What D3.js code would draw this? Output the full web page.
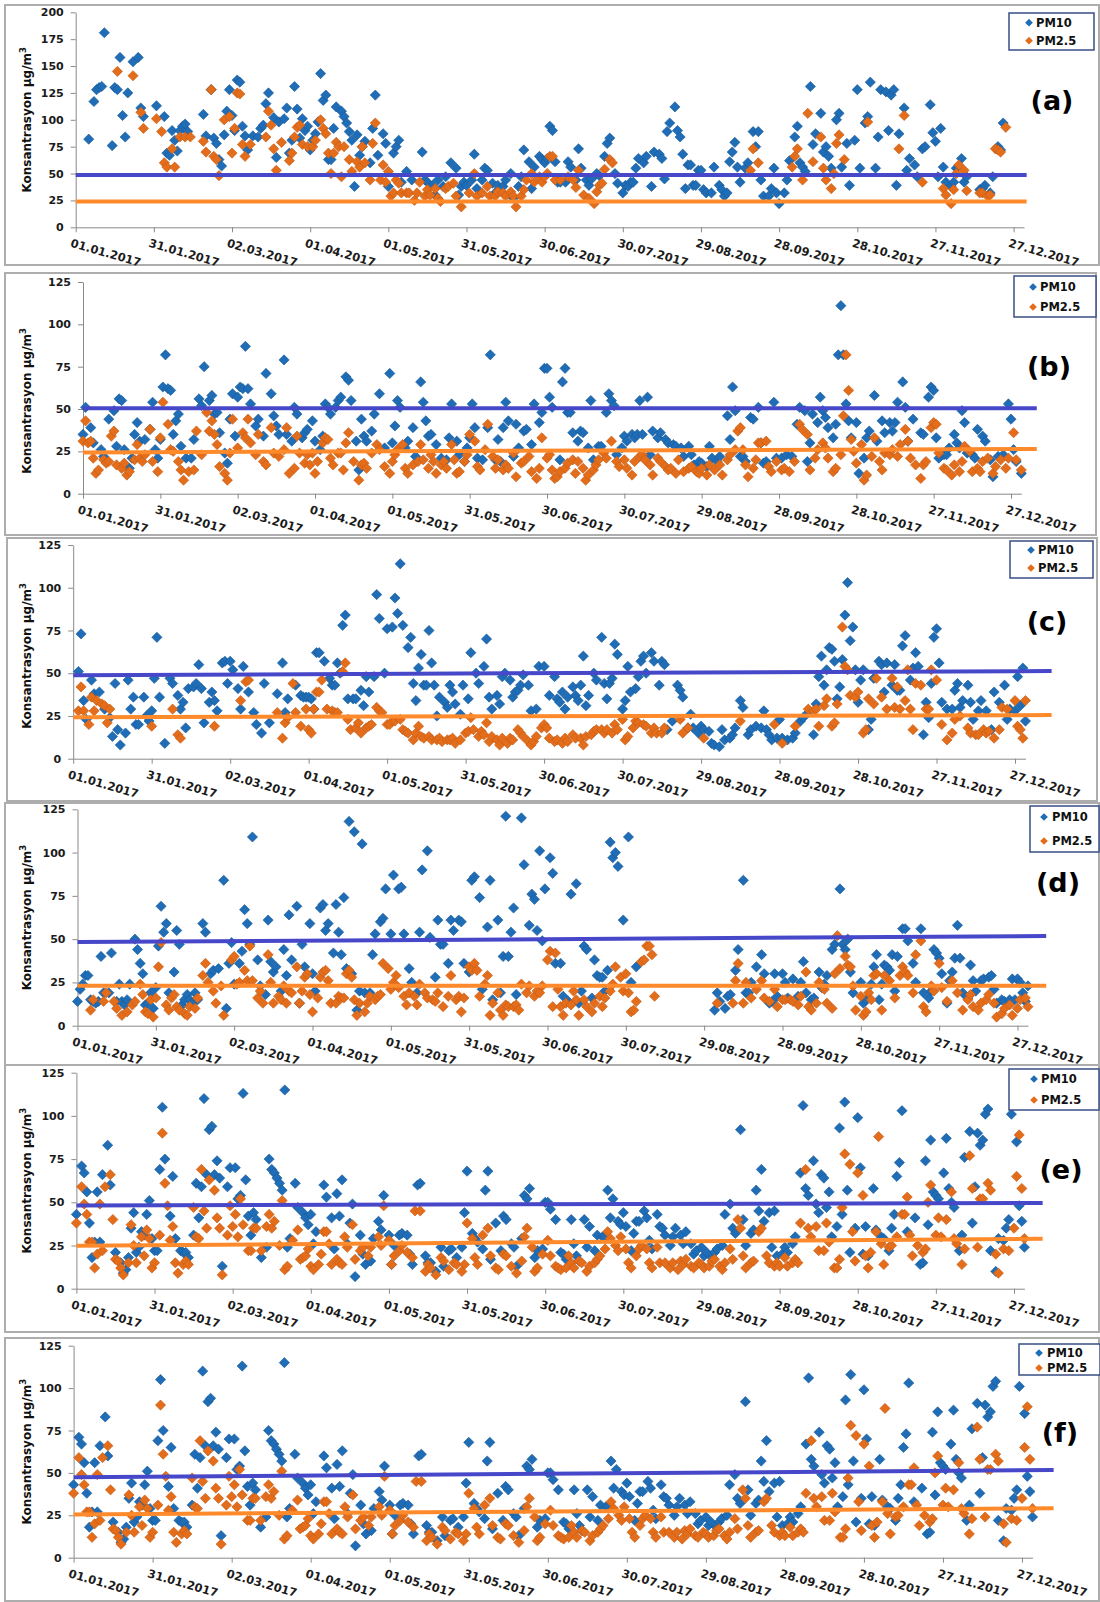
<!DOCTYPE html>
<html>
<head>
<meta charset='utf-8'>
<title>PM10 / PM2.5 2017</title>
<script src='https://d3js.org/d3.v7.min.js'></script>
<style>
body { margin: 0; background: #fff; }
svg text { font-family: 'DejaVu Sans', Verdana, sans-serif; font-weight: bold; }
</style>
</head>
<body>
<div id='chart'></div>
<script>

// x axis: day of year 2017, one label every 30 days
var dateLabels = ['01.01.2017','31.01.2017','02.03.2017','01.04.2017','01.05.2017','31.05.2017',
    '30.06.2017','30.07.2017','29.08.2017','28.09.2017','28.10.2017','27.11.2017','27.12.2017'];
var tickDays = [0,30,60,90,120,150,180,210,240,270,300,330,360];
var panelLetters = ['(a)','(b)','(c)','(d)','(e)','(f)'];
var yMax = [200,125,125,125,125,125];

// trend / limit lines, value at start and at end
var linePM10 = [[48.7,48.7],[50.4,50.4],[48.8,51.3],[48.3,51.8],[48.2,49.6],[47.4,51.7]];
var linePM25 = [[23.9,23.9],[24.4,26.4],[24.3,25.5],[23.1,23.1],[24.9,28.9],[25.5,29.1]];
var lineEndDay = [365,370,374,371,371,372];

// [day, value]
var pm10A = [[5,82],[7,117],[8,128],[9,130],[10,131],[11,181],[14,76],[15,130],[16,128],[17,158],[18,104],[19,84],[20,125],[22,154],[24,158],[25,111],[26,103],[31,113],[34,103],[35,69],[36,67],[37,90],[38,81],[39,71],[40,90],[41,94],[42,96],[43,89],[49,105],[50,85],[52,128],[53,83],[54,78],[55,63],[56,57],[57,86],[58,108],[59,128],[60,104],[61,90],[62,137],[63,135],[64,94],[65,85],[66,72],[68,85],[70,84],[71,92],[72,95],[73,115],[74,125],[76,102],[77,65],[78,98],[80,101],[81,111],[82,69],[83,81],[84,131],[85,110],[86,83],[87,101],[88,90],[89,94],[90,72],[91,81],[92,87],[93,98],[94,143],[95,118],[96,123],[97,63],[98,63],[99,92],[100,112],[102,108],[103,103],[104,97],[105,89],[106,81],[107,38],[108,86],[109,67],[110,75],[111,80],[113,60],[114,92],[115,123],[116,67],[118,87],[119,78],[120,38],[122,69],[123,75],[124,81],[125,42],[127,52],[129,44],[133,70],[134,44],[135,42],[137,39],[138,30],[139,44],[141,38],[142,47],[144,60],[146,55],[147,30],[148,38],[149,42],[150,39],[152,44],[153,68],[154,36],[156,44],[157,55],[158,53],[160,41],[161,32],[162,39],[164,38],[165,44],[167,50],[168,27],[170,38],[171,47],[172,72],[174,61],[175,36],[176,56],[178,66],[179,63],[180,60],[181,64],[182,94],[183,90],[184,61],[185,42],[186,42],[188,42],[189,61],[190,56],[192,44],[193,73],[194,55],[196,44],[197,39],[198,45],[200,50],[201,48],[203,66],[204,78],[205,83],[207,50],[208,41],[210,32],[211,39],[212,38],[213,42],[214,42],[215,55],[216,64],[218,60],[219,66],[221,38],[222,70],[224,68],[225,64],[226,45],[227,89],[228,97],[230,112],[231,90],[232,84],[233,68],[234,36],[235,58],[236,58],[237,39],[238,39],[239,53],[240,53],[241,35],[242,32],[244,32],[245,56],[247,39],[248,35],[249,29],[250,32],[251,61],[252,70],[253,79],[254,56],[255,42],[257,55],[258,60],[260,89],[261,75],[262,89],[263,44],[264,29],[266,29],[267,36],[268,55],[269,32],[270,22],[272,32],[273,44],[274,62],[276,84],[277,94],[278,60],[279,56],[280,52],[282,131],[283,77],[284,87],[286,106],[287,70],[288,75],[289,66],[290,55],[292,100],[293,106],[294,56],[296,78],[297,39],[299,81],[300,128],[301,55],[303,97],[304,103],[305,135],[307,55],[308,84],[309,128],[311,126],[312,90],[313,123],[314,128],[315,39],[316,87],[318,111],[319,53],[320,64],[322,58],[323,47],[325,73],[326,75],[328,114],[329,88],[330,80],[331,47],[332,92],[333,56],[334,42],[336,38],[337,42],[338,55],[340,64],[341,42],[342,47],[347,35],[348,36],[349,39],[351,32],[352,47],[354,75],[355,72],[356,97]];
var pm25A = [[16,145],[22,141],[25,107],[26,92],[31,101],[33,89],[34,60],[35,56],[37,73],[38,56],[40,84],[42,84],[44,84],[49,80],[50,70],[52,128],[53,66],[54,63],[55,48],[57,100],[59,103],[60,69],[61,92],[62,125],[63,124],[64,77],[65,66],[67,77],[73,84],[74,108],[75,95],[76,73],[77,53],[79,79],[82,62],[83,69],[84,84],[85,93],[86,95],[87,77],[89,75],[91,75],[92,81],[94,100],[95,92],[96,87],[97,69],[98,50],[99,69],[100,79],[101,75],[102,47],[103,75],[105,63],[106,52],[108,61],[109,56],[110,75],[111,60],[113,44],[114,78],[115,97],[117,44],[118,58],[119,42],[120,52],[121,29],[122,32],[123,44],[124,41],[125,32],[127,32],[128,32],[130,25],[131,32],[132,42],[134,29],[135,35],[136,30],[138,36],[139,27],[140,24],[142,36],[143,38],[145,41],[146,29],[148,19],[151,32],[153,50],[154,29],[156,32],[158,38],[159,29],[161,29],[162,33],[164,32],[165,29],[167,33],[168,29],[169,19],[171,29],[172,35],[173,44],[175,50],[176,42],[178,47],[179,42],[180,47],[181,50],[182,66],[183,66],[184,44],[186,44],[189,47],[191,44],[192,37],[193,53],[195,30],[197,27],[199,22],[200,33],[201,39],[202,41],[203,54],[205,63],[206,60],[259,53],[260,73],[262,60],[275,56],[276,66],[277,73],[279,44],[281,106],[283,61],[286,84],[287,55],[288,44],[290,36],[291,50],[292,78],[293,86],[295,63],[304,98],[316,73],[318,104],[325,42],[333,36],[334,30],[336,22],[337,35],[338,50],[339,58],[341,53],[342,34],[347,32],[348,32],[350,29],[351,30],[353,73],[354,72],[355,70],[357,93]];

var pm10B = [[0,35],[1,51],[3,39],[4,30],[7,26],[8,22],[10,44],[12,49],[13,28],[14,56],[15,55],[16,26],[17,16],[18,15],[19,21],[20,35],[21,42],[22,31],[24,32],[26,38],[27,54],[28,26],[29,21],[30,32],[31,63],[32,82],[33,62],[34,61],[35,35],[36,43],[37,47],[38,28],[40,21],[42,21],[43,32],[45,56],[46,52],[47,75],[49,55],[50,58],[51,47],[52,48],[53,36],[55,24],[56,18],[57,44],[58,59],[59,34],[60,57],[61,63],[62,62],[63,87],[64,62],[65,53],[67,40],[68,44],[70,34],[71,71],[73,59],[74,46],[75,40],[76,35],[78,79],[79,35],[81,31],[82,51],[83,47],[85,33],[86,36],[87,38],[89,43],[90,31],[92,26],[93,34],[94,53],[95,51],[96,47],[98,51],[99,55],[100,57],[102,69],[103,67],[104,55],[106,31],[107,14],[108,44],[109,34],[110,31],[112,37],[113,47],[115,59],[117,27],[119,71],[120,30],[121,40],[122,55],[123,51],[125,27],[126,31],[128,39],[129,22],[131,66],[132,54],[133,43],[134,34],[135,35],[137,29],[139,21],[141,20],[142,33],[143,53],[145,31],[146,23],[148,19],[149,27],[150,33],[151,53],[152,39],[153,21],[155,20],[157,39],[158,82],[160,20],[161,32],[162,19],[163,39],[164,54],[165,43],[167,22],[168,41],[169,27],[171,37],[172,38],[174,29],[175,53],[177,42],[178,48],[179,74],[180,74],[181,57],[182,51],[185,20],[186,66],[187,74],[188,48],[189,48],[190,36],[192,31],[193,37],[194,36],[196,27],[197,55],[198,20],[200,28],[201,28],[203,48],[204,59],[205,55],[206,52],[207,23],[209,27],[210,34],[211,31],[213,35],[214,33],[215,35],[216,55],[217,35],[219,57],[220,23],[221,37],[223,33],[224,36],[226,32],[227,30],[229,29],[230,28],[232,27],[233,22],[235,28],[236,23],[237,17],[239,19],[240,18],[242,16],[243,28],[244,21],[246,19],[247,22],[250,46],[251,32],[252,63],[253,49],[255,22],[256,22],[257,19],[259,45],[260,44],[262,51],[263,30],[264,18],[265,19],[268,54],[269,21],[271,21],[273,23],[275,22],[277,41],[278,51],[280,49],[281,19],[282,30],[283,47],[285,42],[286,57],[287,49],[288,45],[289,39],[291,33],[292,41],[293,82],[294,111],[295,82],[296,53],[297,43],[298,33],[300,42],[301,12],[303,21],[304,33],[305,37],[307,58],[308,31],[310,43],[311,36],[313,42],[314,37],[315,42],[316,54],[318,66],[319,51],[320,31],[322,44],[325,36],[326,35],[328,57],[329,63],[330,61],[331,33],[332,21],[334,23],[335,23],[336,27],[338,35],[339,30],[340,27],[341,49],[342,42],[343,24],[345,23],[346,21],[347,38],[349,34],[350,31],[352,20],[353,10],[355,22],[357,23],[359,53],[360,44],[361,26],[362,19],[364,12]];
var pm25B = [[0,31],[1,43],[2,30],[3,31],[4,21],[5,12],[6,14],[8,20],[9,18],[10,19],[11,34],[12,37],[13,17],[15,15],[16,18],[17,11],[18,13],[20,20],[21,29],[22,21],[23,19],[24,23],[26,38],[27,19],[29,13],[30,33],[31,54],[33,41],[34,26],[35,25],[37,19],[38,14],[39,8],[41,13],[43,14],[44,37],[46,23],[48,48],[49,37],[50,43],[51,35],[52,29],[53,16],[55,12],[56,8],[57,24],[58,44],[60,27],[62,36],[63,33],[64,44],[65,30],[67,23],[68,35],[70,19],[71,17],[73,39],[74,24],[76,22],[78,26],[79,39],[80,12],[82,15],[83,34],[84,24],[86,18],[87,23],[88,17],[89,24],[90,12],[91,19],[93,30],[94,33],[95,32],[96,21],[97,17],[99,24],[100,24],[101,14],[102,30],[103,36],[105,19],[107,8],[108,17],[109,18],[110,15],[112,24],[114,29],[115,26],[117,16],[119,12],[120,19],[121,23],[122,26],[124,29],[125,15],[126,12],[128,17],[130,19],[131,29],[132,20],[134,15],[135,23],[136,19],[137,12],[139,17],[140,19],[141,15],[143,29],[144,20],[145,12],[146,13],[148,19],[149,23],[150,35],[152,31],[153,16],[154,14],[156,26],[157,41],[159,22],[160,15],[161,20],[163,14],[164,17],[165,15],[167,24],[168,10],[170,18],[171,19],[173,22],[174,13],[176,9],[177,15],[178,33],[180,21],[181,23],[182,14],[183,9],[184,10],[185,13],[187,15],[188,18],[190,20],[191,12],[192,19],[194,15],[195,8],[196,11],[198,14],[199,17],[200,20],[202,24],[203,21],[205,31],[207,19],[208,16],[210,20],[211,15],[213,11],[214,19],[216,22],[217,23],[218,20],[220,17],[221,11],[223,21],[224,19],[226,16],[227,14],[228,15],[230,12],[231,20],[233,13],[235,15],[236,16],[238,13],[239,12],[240,15],[242,11],[243,17],[245,14],[247,17],[248,11],[250,20],[251,23],[253,26],[254,37],[255,39],[256,26],[257,17],[258,10],[260,15],[261,20],[262,30],[263,30],[265,31],[266,16],[267,13],[269,19],[271,14],[272,15],[274,13],[276,19],[278,41],[279,38],[281,35],[282,14],[284,21],[285,26],[287,30],[288,27],[289,21],[291,13],[292,15],[294,23],[295,46],[296,82],[297,61],[298,32],[299,25],[300,18],[302,29],[303,8],[304,11],[306,22],[307,33],[309,19],[310,14],[311,24],[313,23],[314,26],[316,22],[317,29],[319,38],[320,31],[321,21],[323,17],[325,9],[326,17],[327,19],[329,39],[330,42],[331,41],[332,24],[334,15],[335,14],[337,11],[338,17],[340,13],[341,19],[342,28],[344,25],[345,13],[347,15],[348,13],[349,19],[351,21],[353,12],[354,16],[356,20],[358,15],[359,21],[361,36],[362,20],[364,14]];

var pm10C = [[2,51],[3,73],[4,34],[5,23],[7,46],[8,38],[10,39],[12,29],[14,24],[15,13],[16,44],[17,17],[18,8],[20,15],[21,46],[22,29],[23,36],[24,20],[25,20],[27,36],[28,25],[29,22],[30,28],[31,47],[32,71],[33,36],[35,9],[37,47],[38,44],[40,37],[41,29],[42,33],[43,18],[44,41],[46,42],[47,44],[48,55],[49,41],[50,21],[52,33],[53,39],[54,34],[55,28],[57,56],[58,57],[59,44],[60,57],[61,52],[63,41],[64,29],[65,54],[67,39],[69,27],[70,20],[72,15],[73,44],[75,21],[78,38],[80,56],[81,27],[82,35],[85,43],[87,37],[88,36],[89,36],[90,36],[91,35],[92,29],[93,62],[94,62],[96,57],[98,47],[99,43],[100,43],[101,56],[102,50],[103,78],[104,84],[105,35],[107,35],[108,35],[110,40],[111,31],[112,48],[113,39],[115,48],[116,96],[117,82],[119,50],[120,76],[122,77],[123,94],[124,85],[125,114],[126,78],[128,65],[129,71],[130,44],[131,34],[132,53],[133,61],[134,43],[135,43],[136,75],[137,56],[138,43],[139,25],[140,36],[142,33],[143,30],[144,43],[145,39],[146,32],[148,26],[149,43],[151,35],[152,62],[154,50],[155,44],[157,54],[158,70],[159,36],[160,29],[162,37],[163,32],[164,48],[165,50],[167,46],[168,36],[169,39],[170,40],[171,43],[172,49],[174,43],[175,28],[177,29],[178,54],[180,54],[182,37],[184,48],[185,35],[186,33],[187,39],[188,29],[189,36],[191,42],[192,37],[193,34],[194,43],[195,60],[196,31],[197,37],[199,50],[200,46],[202,71],[203,44],[204,35],[205,44],[206,47],[207,67],[208,61],[210,29],[211,34],[212,54],[213,39],[215,41],[216,48],[217,57],[218,60],[219,50],[221,62],[222,57],[224,43],[225,57],[226,55],[227,17],[229,22],[231,43],[232,40],[233,36],[235,18],[236,26],[237,18],[239,15],[240,19],[241,17],[243,16],[244,9],[245,8],[247,7],[248,17],[249,11],[251,12],[252,14],[253,18],[255,34],[256,30],[258,14],[259,17],[261,19],[263,18],[264,28],[265,17],[266,14],[267,11],[269,12],[270,23],[271,12],[273,11],[275,12],[276,15],[278,22],[279,24],[281,27],[283,14],[284,32],[285,48],[286,60],[287,43],[288,52],[289,65],[290,64],[291,57],[292,35],[293,42],[294,58],[295,84],[296,103],[297,69],[298,77],[299,52],[300,33],[301,46],[302,52],[304,17],[305,23],[306,47],[308,57],[309,55],[310,39],[311,56],[313,43],[314,55],[315,40],[316,40],[317,66],[318,72],[320,46],[321,53],[322,62],[323,54],[325,14],[326,33],[327,24],[328,44],[329,71],[330,76],[331,56],[332,33],[334,29],[336,29],[337,40],[338,44],[339,30],[340,34],[342,43],[343,33],[344,23],[346,28],[347,34],[349,28],[351,17],[352,39],[354,33],[356,43],[357,23],[358,29],[360,28],[361,48],[362,31],[363,53],[364,22]];
var pm25C = [[2,28],[3,42],[4,28],[6,20],[7,36],[8,28],[9,34],[11,32],[12,31],[13,21],[14,29],[30,19],[38,29],[40,14],[41,12],[54,19],[64,34],[66,45],[67,46],[78,27],[80,12],[81,21],[82,24],[84,44],[85,27],[87,19],[89,29],[90,17],[91,15],[92,29],[93,39],[94,39],[95,46],[97,29],[99,28],[100,27],[101,27],[103,51],[104,56],[105,23],[106,17],[108,18],[109,21],[110,15],[112,18],[113,19],[114,20],[116,30],[117,28],[118,27],[120,20],[121,20],[122,22],[123,22],[125,23],[126,17],[127,16],[128,15],[130,11],[131,15],[132,19],[133,13],[134,12],[136,13],[137,11],[139,11],[140,12],[141,10],[143,11],[144,11],[145,12],[146,9],[148,11],[150,15],[151,16],[152,24],[153,17],[155,13],[156,16],[157,14],[158,21],[159,10],[160,13],[162,11],[163,8],[164,12],[166,9],[167,12],[168,11],[170,17],[171,15],[172,13],[174,10],[175,8],[176,10],[177,13],[179,18],[180,20],[181,18],[182,12],[184,10],[185,11],[187,9],[188,12],[189,10],[191,14],[192,12],[194,12],[195,8],[196,13],[198,14],[199,16],[200,17],[202,17],[203,15],[204,17],[206,15],[207,20],[208,17],[210,23],[211,11],[212,13],[214,18],[215,22],[216,21],[218,20],[219,19],[221,15],[222,18],[223,15],[225,15],[226,18],[232,23],[233,15],[235,18],[241,12],[255,22],[268,20],[271,9],[276,19],[281,29],[283,28],[284,29],[285,19],[287,31],[288,35],[290,19],[291,21],[292,32],[294,77],[295,54],[296,52],[297,37],[299,36],[300,39],[302,15],[303,17],[304,35],[306,32],[307,47],[309,36],[311,29],[313,47],[314,30],[315,42],[316,29],[318,34],[319,52],[320,29],[321,17],[322,44],[324,43],[326,29],[327,29],[328,52],[330,46],[332,20],[334,11],[336,15],[337,23],[339,25],[342,18],[343,15],[345,14],[346,14],[348,17],[349,15],[350,16],[352,12],[354,17],[355,30],[357,29],[360,34],[361,19],[362,17],[363,12],[364,34]];

var pm10D = [[0,14],[1,21],[2,24],[3,29],[4,29],[5,15],[6,14],[7,13],[8,14],[9,40],[10,19],[12,19],[13,42],[15,14],[16,24],[17,14],[18,12],[19,15],[20,24],[22,50],[23,44],[24,36],[25,30],[26,12],[27,13],[28,19],[29,10],[30,22],[31,46],[32,69],[33,54],[34,59],[35,19],[37,31],[38,55],[39,47],[40,12],[41,15],[42,18],[43,15],[44,13],[45,19],[46,15],[48,59],[49,54],[51,30],[52,32],[54,33],[56,84],[57,10],[58,36],[59,48],[60,24],[62,36],[63,43],[64,67],[65,59],[66,47],[67,109],[69,38],[70,23],[72,18],[73,61],[74,37],[75,31],[76,34],[78,20],[79,44],[80,29],[81,64],[82,38],[84,69],[85,13],[86,47],[87,34],[89,59],[90,30],[91,20],[93,68],[94,70],[95,55],[96,59],[98,42],[99,70],[100,54],[101,41],[102,74],[103,33],[104,118],[105,30],[106,112],[107,9],[108,20],[109,105],[110,19],[112,19],[113,41],[114,53],[116,60],[117,62],[118,79],[120,53],[121,87],[123,79],[124,80],[125,53],[127,33],[128,25],[130,19],[131,54],[132,90],[134,101],[135,51],[137,28],[138,61],[139,47],[140,47],[142,36],[143,61],[144,55],[146,61],[147,60],[148,36],[150,31],[151,84],[152,86],[154,74],[155,21],[157,57],[158,84],[159,15],[161,61],[162,19],[163,40],[164,121],[165,40],[166,54],[167,68],[168,18],[170,120],[171,93],[173,58],[174,76],[175,73],[176,55],[177,101],[178,49],[179,79],[181,97],[182,88],[183,36],[185,36],[186,17],[188,14],[189,76],[191,82],[192,13],[193,20],[194,46],[195,44],[197,16],[198,38],[199,29],[200,28],[201,28],[202,20],[203,32],[204,106],[205,97],[206,100],[207,92],[209,61],[211,109],[212,25],[214,34],[244,9],[245,19],[246,14],[248,10],[249,17],[250,18],[252,32],[253,44],[255,84],[256,19],[257,19],[258,25],[260,34],[262,41],[263,30],[265,13],[266,14],[267,30],[268,17],[270,30],[271,25],[272,16],[274,27],[276,17],[277,25],[278,37],[279,19],[281,15],[282,16],[284,31],[285,22],[286,24],[287,29],[289,44],[290,47],[292,79],[293,47],[294,44],[295,50],[296,31],[297,19],[300,25],[301,13],[302,15],[304,24],[305,34],[306,41],[307,15],[308,24],[309,35],[310,34],[311,32],[312,41],[313,20],[314,40],[316,56],[317,56],[318,49],[320,36],[321,25],[323,56],[324,19],[326,16],[327,20],[328,44],[329,42],[330,39],[331,30],[333,13],[334,26],[335,31],[336,39],[337,58],[338,39],[339,19],[341,16],[342,35],[343,26],[344,20],[346,26],[347,27],[349,28],[350,29],[351,21],[352,13],[354,15],[355,14],[357,15],[358,27],[359,15],[360,27],[361,25],[362,19],[363,14],[364,23]];
var pm25D = [[5,9],[6,15],[10,14],[11,19],[14,14],[15,10],[17,6],[19,8],[21,12],[22,14],[24,24],[25,18],[26,8],[27,7],[28,15],[29,5],[30,16],[31,34],[32,48],[34,12],[35,9],[36,16],[37,18],[38,11],[39,9],[41,7],[42,6],[43,11],[45,10],[46,16],[48,29],[49,36],[50,25],[52,20],[53,13],[55,23],[56,6],[59,38],[60,40],[61,24],[62,25],[64,32],[65,26],[66,46],[67,26],[69,16],[70,20],[71,13],[73,41],[74,25],[75,13],[77,17],[78,15],[79,23],[80,13],[81,20],[82,19],[84,34],[85,13],[86,20],[87,28],[88,30],[89,18],[90,8],[92,16],[93,28],[94,31],[95,32],[96,26],[97,13],[99,13],[100,17],[101,16],[102,16],[103,30],[104,32],[105,28],[106,15],[107,6],[108,13],[110,8],[111,13],[112,17],[114,15],[115,17],[116,18],[117,36],[119,33],[120,21],[121,25],[122,29],[123,22],[125,17],[126,12],[127,19],[129,17],[130,12],[131,24],[133,19],[134,16],[136,15],[137,14],[138,19],[140,11],[142,17],[143,29],[145,15],[146,17],[147,8],[148,16],[150,34],[151,32],[152,36],[153,32],[154,17],[156,24],[157,29],[158,6],[159,13],[161,19],[162,9],[163,6],[164,12],[165,11],[167,11],[168,12],[169,9],[170,24],[172,19],[173,23],[175,17],[176,20],[177,19],[178,23],[180,38],[181,43],[182,11],[183,42],[184,21],[185,11],[186,6],[187,13],[189,12],[190,20],[191,15],[192,6],[194,15],[195,11],[197,8],[198,13],[200,17],[201,11],[202,16],[204,20],[205,24],[206,34],[208,28],[209,20],[210,30],[211,19],[212,8],[213,9],[214,14],[216,37],[217,38],[218,46],[219,46],[220,41],[221,17],[245,13],[251,13],[252,26],[253,36],[255,13],[256,25],[258,16],[260,21],[262,26],[263,16],[265,14],[267,21],[268,11],[270,15],[271,15],[273,15],[274,14],[276,12],[277,17],[279,31],[280,11],[281,9],[283,13],[284,25],[286,21],[287,13],[289,10],[290,30],[291,52],[292,33],[294,40],[295,35],[296,34],[297,23],[298,9],[300,17],[301,6],[302,8],[303,19],[304,15],[305,29],[306,30],[308,9],[309,29],[311,26],[313,16],[315,29],[316,34],[317,31],[318,29],[320,19],[321,41],[323,49],[324,11],[325,8],[327,23],[328,20],[330,36],[331,22],[333,14],[335,26],[337,19],[339,9],[341,15],[342,18],[343,11],[345,9],[346,13],[348,15],[349,18],[351,13],[352,5],[354,7],[355,10],[357,12],[358,6],[360,10],[361,15],[363,16],[364,11]];

// panels (e) and (f) show the same daily values
var pm10E = [[0,43],[2,71],[3,67],[4,56],[5,38],[6,18],[7,27],[8,56],[9,27],[10,66],[12,83],[13,60],[15,21],[17,15],[18,9],[19,11],[20,18],[21,35],[22,44],[23,21],[24,24],[25,33],[26,31],[27,43],[28,51],[29,29],[30,22],[31,22],[32,69],[33,105],[34,75],[36,42],[37,65],[38,29],[40,22],[41,21],[42,21],[43,18],[45,31],[46,61],[47,41],[48,59],[49,110],[50,66],[51,92],[52,94],[53,66],[54,74],[55,64],[56,13],[58,59],[59,70],[61,70],[62,52],[63,54],[64,113],[65,63],[66,42],[67,31],[68,44],[69,40],[71,18],[73,24],[74,75],[75,69],[76,67],[77,64],[78,61],[79,57],[80,115],[81,24],[82,29],[84,61],[85,47],[87,44],[88,41],[89,37],[90,43],[91,26],[92,33],[95,60],[96,53],[98,41],[99,23],[100,55],[101,42],[102,63],[104,26],[105,38],[106,49],[107,7],[109,31],[110,20],[111,14],[113,16],[114,29],[116,39],[117,34],[118,54],[120,31],[121,14],[122,25],[124,31],[125,32],[127,31],[128,20],[129,14],[131,60],[132,61],[134,19],[135,15],[136,15],[138,10],[140,24],[141,13],[143,22],[144,23],[146,18],[148,24],[149,44],[150,68],[152,32],[153,29],[154,27],[156,23],[157,57],[158,68],[159,17],[161,38],[163,22],[164,42],[165,40],[167,26],[168,24],[169,13],[171,29],[172,54],[173,52],[174,58],[176,18],[177,22],[179,23],[180,50],[181,50],[182,46],[184,40],[186,21],[187,20],[188,17],[190,40],[191,26],[192,19],[193,16],[195,40],[196,24],[197,36],[199,22],[200,31],[202,30],[203,30],[204,57],[205,41],[206,52],[208,39],[209,37],[210,44],[211,36],[213,22],[214,32],[215,39],[216,39],[218,45],[219,41],[220,28],[221,23],[223,43],[224,36],[225,35],[226,31],[228,25],[229,30],[230,35],[232,31],[233,26],[234,33],[236,26],[237,20],[238,22],[240,24],[241,19],[242,21],[244,18],[245,21],[246,23],[248,25],[249,43],[251,49],[252,35],[253,32],[255,92],[256,40],[257,25],[259,32],[260,34],[261,57],[262,45],[263,69],[264,39],[266,44],[267,24],[268,45],[269,19],[271,20],[272,24],[273,21],[275,26],[276,30],[278,67],[279,106],[280,58],[281,54],[283,74],[284,49],[285,44],[286,66],[287,64],[288,47],[289,56],[290,30],[292,36],[293,93],[294,43],[295,108],[296,57],[297,21],[299,35],[300,99],[301,70],[302,20],[303,36],[304,19],[306,58],[307,34],[309,30],[310,29],[312,22],[313,35],[314,43],[315,65],[316,73],[317,103],[319,33],[322,41],[324,14],[325,15],[326,74],[327,37],[328,86],[329,56],[330,54],[331,52],[333,67],[334,87],[335,58],[336,50],[337,47],[339,22],[340,31],[341,76],[343,91],[344,38],[345,59],[346,90],[347,83],[348,86],[349,101],[350,104],[351,22],[353,10],[354,29],[356,28],[357,35],[358,40],[359,101],[361,85],[362,48],[363,39],[364,24]];
var pm25E = [[0,38],[2,59],[3,49],[4,43],[5,27],[6,27],[7,12],[8,20],[9,49],[10,22],[11,59],[13,66],[14,40],[15,17],[16,16],[17,12],[18,8],[20,15],[21,37],[22,25],[23,15],[25,30],[26,19],[27,34],[28,29],[29,12],[30,15],[32,31],[33,90],[34,61],[35,48],[36,28],[37,36],[38,15],[39,9],[41,14],[42,16],[43,14],[45,47],[46,30],[47,29],[48,69],[49,45],[50,35],[51,63],[53,57],[54,41],[55,35],[56,8],[58,31],[59,48],[60,36],[61,43],[62,30],[63,52],[64,37],[66,22],[67,22],[68,35],[69,35],[71,22],[73,36],[74,43],[75,35],[76,39],[78,25],[79,51],[80,11],[81,13],[83,28],[85,34],[86,17],[87,18],[88,19],[89,23],[90,13],[91,11],[93,14],[94,20],[95,33],[96,33],[97,26],[98,14],[100,17],[101,15],[102,14],[103,30],[104,24],[106,37],[107,17],[109,22],[110,24],[112,19],[113,24],[116,30],[117,25],[118,48],[120,28],[121,14],[122,19],[124,22],[125,25],[127,21],[129,18],[130,45],[132,45],[134,10],[135,14],[136,12],[138,8],[140,18],[141,16],[143,11],[145,15],[146,14],[148,10],[149,14],[150,38],[152,29],[153,18],[154,14],[156,31],[158,35],[159,19],[161,12],[162,11],[164,20],[165,19],[167,13],[169,9],[171,16],[172,30],[173,35],[175,24],[176,10],[177,12],[179,20],[181,28],[182,19],[184,13],[185,12],[186,11],[188,12],[189,19],[190,15],[191,12],[193,16],[194,15],[196,10],[197,13],[199,15],[200,17],[201,19],[203,23],[204,33],[205,29],[207,25],[208,22],[209,30],[211,23],[212,15],[213,12],[215,19],[216,23],[217,25],[219,23],[220,15],[221,12],[223,24],[224,15],[226,15],[228,12],[229,15],[231,11],[232,16],[233,14],[234,17],[236,13],[237,12],[239,15],[240,14],[241,12],[243,13],[244,16],[245,17],[247,13],[248,11],[249,15],[251,23],[252,17],[254,40],[255,35],[256,19],[257,12],[259,15],[260,16],[262,33],[263,35],[265,19],[266,15],[268,13],[269,15],[270,13],[272,18],[273,13],[275,15],[276,17],[277,15],[278,38],[280,69],[281,35],[282,30],[284,36],[285,22],[287,22],[288,38],[289,27],[291,12],[292,12],[293,17],[294,47],[295,78],[297,72],[298,33],[299,16],[300,67],[302,54],[303,19],[304,12],[305,21],[307,33],[308,88],[309,26],[310,14],[312,24],[313,25],[315,30],[317,43],[318,43],[319,53],[320,31],[321,19],[323,25],[325,21],[326,23],[327,50],[328,60],[330,31],[331,41],[332,30],[334,40],[336,56],[337,29],[338,26],[340,14],[341,23],[343,77],[344,58],[346,24],[347,52],[348,52],[350,61],[351,57],[353,20],[354,9],[356,23],[358,22],[360,35],[361,65],[362,89],[363,58],[364,29]];

// layout of the six stacked panels (pixels)
var panels = [
    {box:[5,5,1094,260],    x0:75.7, x360:1013.6, yTop:12.3,   yBot:227.3,  leg:{x:1009,y:13,w:85,h:37,r1:9.7,r2:27.7,mx:20,tx:27}, lab:[1052,110],  tShift:0,  pm10:pm10A, pm25:pm25A},
    {box:[5,273,1091,262],  x0:83,   x360:1011,   yTop:282,    yBot:493.7,  leg:{x:1014,y:276,w:82,h:41,r1:11,r2:31,mx:19,tx:26},     lab:[1049,376],  tShift:13, pm10:pm10B, pm25:pm25B},
    {box:[7,538,1090,263],  x0:73.2, x360:1015,   yTop:545,    yBot:758.7,  leg:{x:1010,y:541,w:83,h:37,r1:9,r2:27,mx:21,tx:28},      lab:[1047,631],  tShift:4,  pm10:pm10C, pm25:pm25C},
    {box:[5,803,1094,262],  x0:77.5, x360:1017.5, yTop:809.3,  yBot:1025.7, leg:{x:1030,y:806,w:69,h:46,r1:11,r2:35,mx:14,tx:22},     lab:[1058,892],  tShift:0,  pm10:pm10D, pm25:pm25D},
    {box:[5,1065,1094,267], x0:76.4, x360:1014,   yTop:1072.7, yBot:1288.7, leg:{x:1009,y:1069,w:90,h:41,r1:10,r2:31,mx:25,tx:32},    lab:[1061,1179], tShift:0,  pm10:pm10E, pm25:pm25E},
    {box:[5,1338,1094,263], x0:73.6, x360:1022,   yTop:1345.7, yBot:1557.7, leg:{x:1019,y:1344,w:81,h:31,r1:9,r2:24,mx:20,tx:28},     lab:[1060,1442], tShift:0,  pm10:pm10E, pm25:pm25E}
];

var blue = '#1f6db6', blueEdge = '#175996';
var orange = '#e46d1c', orangeEdge = '#c45a12';

var svg = d3.select('#chart')
    .append('svg')
    .attr('width', 1100)
    .attr('height', 1602);

var diamond = d3.symbol().type(d3.symbolSquare).size(52);
var smallDiamond = d3.symbol().type(d3.symbolSquare).size(30);

panels.forEach(function(p, i) {
    var g = svg.append('g');

    g.append('rect')
        .attr('x', p.box[0]).attr('y', p.box[1])
        .attr('width', p.box[2]).attr('height', p.box[3])
        .attr('fill', 'none')
        .attr('stroke', '#adadad')
        .attr('stroke-width', 2);

    var xEnd = p.x0 + (p.x360 - p.x0) * 364 / 360;
    var x = d3.scaleLinear().domain([0, 364]).range([p.x0, xEnd]);
    var y = d3.scaleLinear().domain([0, yMax[i]]).range([p.yBot, p.yTop]);

    var yAxis = g.append('g')
        .attr('transform', 'translate(' + p.x0 + ',0)')
        .call(d3.axisLeft(y).tickValues(d3.range(0, yMax[i] + 1, 25)).tickSize(5).tickSizeOuter(0).tickPadding(7));

    var xAxis = g.append('g')
        .attr('transform', 'translate(0,' + p.yBot + ')')
        .call(d3.axisBottom(x).tickValues(tickDays)
            .tickFormat(function(d, j) { return dateLabels[j] })
            .tickSize(5).tickSizeOuter(0));

    [yAxis, xAxis].forEach(function(a) {
        a.select('.domain').attr('stroke', '#8a8a8a');
        a.selectAll('.tick line').attr('stroke', '#8a8a8a');
        a.selectAll('text').attr('fill', '#1b1b1b').attr('font-size', 11)
            .attr('font-family', "'DejaVu Sans', Verdana, sans-serif").attr('font-weight', 'bold');
    });
    xAxis.selectAll('text')
        .attr('x', 0).attr('y', 0).attr('dy', '0.75em')
        .attr('text-anchor', 'start')
        .attr('font-size', 11.5)
        .attr('transform', 'translate(-4,11) rotate(16)');

    // y title
    var title = g.append('text')
        .attr('transform', 'translate(31,' + ((p.yTop + p.yBot) / 2 + p.tShift) + ') rotate(-90)')
        .attr('text-anchor', 'middle')
        .attr('font-size', 12)
        .attr('fill', '#111');
    title.append('tspan').text('Konsantrasyon \u00b5g/m');
    title.append('tspan').attr('font-size', 8.5).attr('dy', -5).text('3');

    // markers
    g.append('g').selectAll('path')
        .data(p.pm10)
        .join('path')
        .attr('d', diamond)
        .attr('transform', function(d) { return 'translate(' + x(d[0]) + ',' + y(d[1]) + ') rotate(45)' })
        .attr('fill', blue)
        .attr('stroke', blueEdge)
        .attr('stroke-width', 0.6);

    g.append('g').selectAll('path')
        .data(p.pm25)
        .join('path')
        .attr('d', diamond)
        .attr('transform', function(d) { return 'translate(' + x(d[0]) + ',' + y(d[1]) + ') rotate(45)' })
        .attr('fill', orange)
        .attr('stroke', orangeEdge)
        .attr('stroke-width', 0.6);

    // lines
    g.append('line')
        .attr('x1', x(0)).attr('y1', y(linePM10[i][0]))
        .attr('x2', x(lineEndDay[i])).attr('y2', y(linePM10[i][1]))
        .attr('stroke', '#4747c9').attr('stroke-width', 4);
    g.append('line')
        .attr('x1', x(0)).attr('y1', y(linePM25[i][0]))
        .attr('x2', x(lineEndDay[i])).attr('y2', y(linePM25[i][1]))
        .attr('stroke', '#ff8a2b').attr('stroke-width', 4);

    // legend
    var L = p.leg;
    g.append('rect')
        .attr('x', L.x).attr('y', L.y).attr('width', L.w).attr('height', L.h)
        .attr('fill', '#fff')
        .attr('stroke', '#3a4e85')
        .attr('stroke-width', 1.5);
    [['PM10', blue, L.r1], ['PM2.5', orange, L.r2]].forEach(function(e) {
        g.append('path')
            .attr('d', smallDiamond)
            .attr('transform', 'translate(' + (L.x + L.mx) + ',' + (L.y + e[2]) + ') rotate(45)')
            .attr('fill', e[1]);
        g.append('text')
            .attr('x', L.x + L.tx).attr('y', L.y + e[2])
            .attr('dy', '0.36em')
            .attr('font-size', 11.5)
            .attr('fill', '#111')
            .text(e[0]);
    });

    g.append('text')
        .attr('x', p.lab[0]).attr('y', p.lab[1])
        .attr('text-anchor', 'middle')
        .attr('font-size', 27)
        .attr('fill', '#000')
        .text(panelLetters[i]);
});

</script>
</body>
</html>
